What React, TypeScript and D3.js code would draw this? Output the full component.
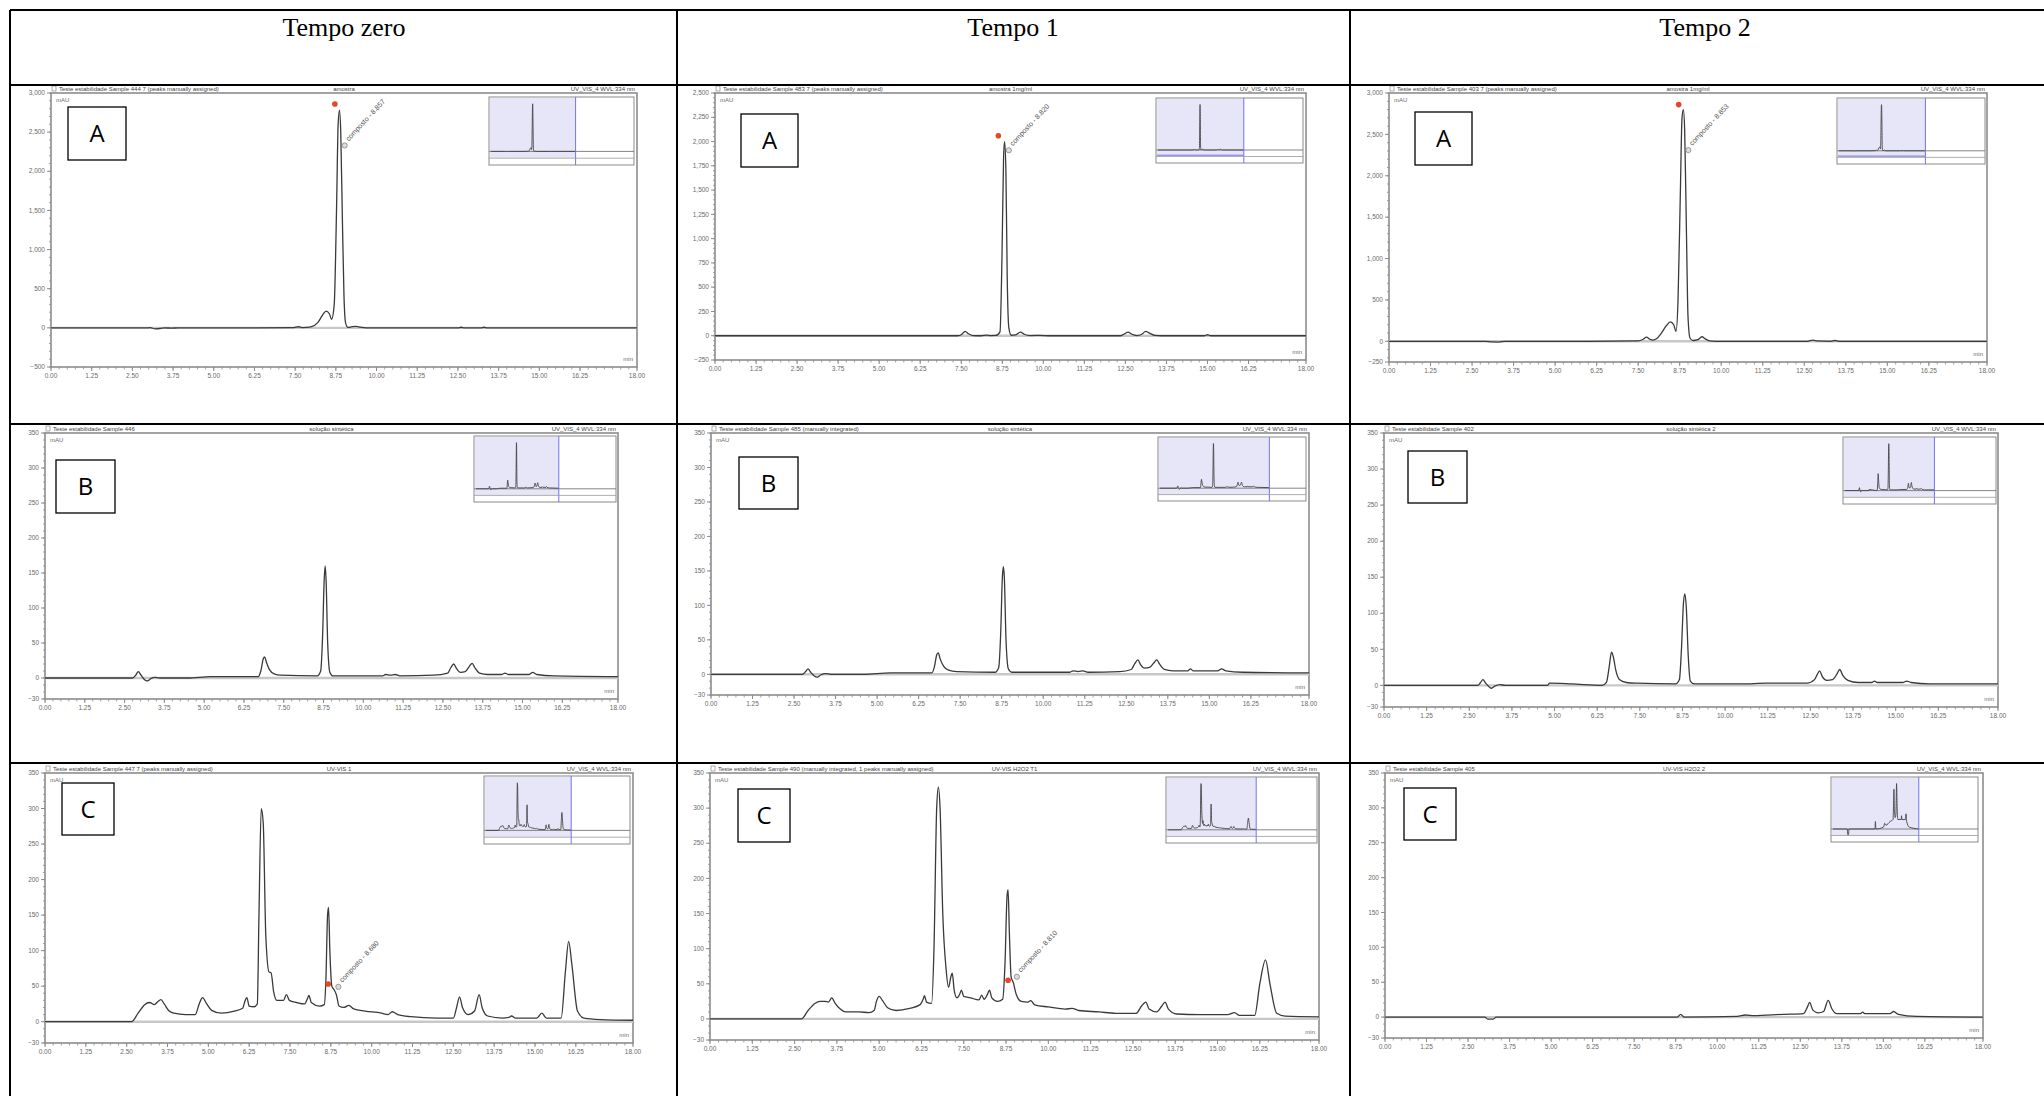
import React from 'react';
import * as d3 from 'd3';

type Pt = [number, number];

// table headers
const columnTitles = ['Tempo zero', 'Tempo 1', 'Tempo 2'];
const rowLetters = ['A', 'B', 'C'];

// retention time axis (min)
const xTickLabels = [0, 1.25, 2.5, 3.75, 5, 6.25, 7.5, 8.75, 10, 11.25, 12.5, 13.75, 15, 16.25, 18];
const xMax = 18;

// absorbance axes (mAU)
const yTicksA0 = [-500, 0, 500, 1000, 1500, 2000, 2500, 3000];
const yTicksA1 = [-250, 0, 250, 500, 750, 1000, 1250, 1500, 1750, 2000, 2250, 2500];
const yTicksA2 = [-250, 0, 500, 1000, 1500, 2000, 2500, 3000];
const yTicksBC = [-30, 0, 50, 100, 150, 200, 250, 300, 350];

// chromatogram header strings
const sampleNames = [
  'Teste estabilidade Sample 444 7 (peaks manually assigned)',
  'Teste estabilidade Sample 483 7 (peaks manually assigned)',
  'Teste estabilidade Sample 403 7 (peaks manually assigned)',
  'Teste estabilidade Sample 446',
  'Teste estabilidade Sample 485 (manually integrated)',
  'Teste estabilidade Sample 402',
  'Teste estabilidade Sample 447 7 (peaks manually assigned)',
  'Teste estabilidade Sample 490 (manually integrated, 1 peaks manually assigned)',
  'Teste estabilidade Sample 405',
];
const sampleDescr = ['amostra', 'amostra 1mg/ml', 'amostra 1mg/ml', 'solução sintética', 'solução sintética',
  'solução sintética 2', 'UV-VIS 1', 'UV-VIS H2O2 T1', 'UV-VIS H2O2 2'];
const channelName = 'UV_VIS_4 WVL:334 nm';

// run length shown in the overview thumbnails (min)
const overviewRun = [30, 30, 30, 30, 23.7, 30, 30, 30, 30];

// traces (time min, mAU)
const traceA0: Pt[] = [[0, 0], [2.9, 0], [3.05, 2], [3.2, -12], [3.35, -8], [3.5, 0], [3.7, -4], [3.9, 0], [5.5, 0], [7.45, 2],
  [7.6, 14], [7.72, 4], [7.85, 6], [8.0, 15], [8.2, 70], [8.35, 170], [8.45, 215], [8.55, 180], [8.62, 110], [8.7, 300],
  [8.77, 1500], [8.82, 2600], [8.86, 2780], [8.9, 2500], [8.95, 1400], [9.0, 400], [9.05, 60], [9.12, 5], [9.25, 15],
  [9.38, 20], [9.5, 8], [9.7, 0], [12.5, 0], [12.6, 8], [12.7, 0], [13.2, 0], [13.3, 8], [13.4, 0], [18, 0]];
const traceA1: Pt[] = [[0, 0], [7.4, 0], [7.5, 10], [7.62, 45], [7.72, 20], [7.85, 2], [8.1, 0], [8.28, 6], [8.4, 2], [8.55, 3],
  [8.68, 40], [8.74, 800], [8.79, 1850], [8.82, 2000], [8.86, 1700], [8.9, 600], [8.95, 80], [9.02, 5], [9.15, 8], [9.3, 38],
  [9.42, 15], [9.6, 2], [9.9, 4], [10.2, 0], [12.35, 0], [12.5, 25], [12.58, 38], [12.68, 18], [12.85, 2], [13.0, 15],
  [13.12, 45], [13.22, 30], [13.4, 3], [13.6, 0], [14.9, 0], [15.0, 10], [15.1, 0], [18, 0]];
const traceA2: Pt[] = [[0, 0], [2.9, 0], [3.1, -8], [3.3, -10], [3.5, 0], [6.0, 0], [7.5, 5], [7.65, 25], [7.75, 50], [7.85, 25],
  [7.95, 15], [8.05, 30], [8.2, 100], [8.35, 190], [8.47, 235], [8.57, 200], [8.64, 120], [8.7, 500], [8.77, 1800],
  [8.82, 2700], [8.86, 2800], [8.9, 2550], [8.95, 1400], [9.0, 300], [9.06, 40], [9.15, 10], [9.3, 20], [9.42, 55],
  [9.52, 30], [9.65, 5], [9.8, 0], [12.6, 0], [12.75, 15], [12.85, 5], [13.3, 0], [13.42, 10], [13.55, 0], [18, 0]];
const traceB0: Pt[] = [[0, 0], [2.75, 0], [2.85, 4], [2.93, 9], [3.02, 4], [3.12, -2], [3.22, -4], [3.32, -1], [3.45, 1], [3.6, 0],
  [4.5, 0], [5.2, 2], [6.7, 2], [6.78, 10], [6.86, 28], [6.9, 30], [6.96, 22], [7.05, 12], [7.2, 6], [7.4, 4], [8.55, 3],
  [8.66, 10], [8.72, 60], [8.77, 140], [8.8, 160], [8.83, 140], [8.88, 50], [8.95, 8], [9.05, 3], [10.6, 3], [10.7, 5],
  [10.85, 4], [11.0, 5], [11.15, 3], [12.2, 4], [12.65, 7], [12.75, 15], [12.84, 20], [12.92, 14], [13.05, 8], [13.2, 9],
  [13.32, 16], [13.42, 21], [13.5, 15], [13.65, 7], [13.9, 5], [14.35, 5], [14.45, 7], [14.55, 5], [15.2, 5], [15.32, 8],
  [15.45, 5], [16.0, 3], [18, 2]];
const traceB1: Pt[] = [[0, 0], [2.75, 0], [2.85, 4], [2.92, 8], [3.0, 3], [3.1, -2], [3.2, -4], [3.3, -1], [3.45, 1], [3.6, 0],
  [4.6, 0], [5.4, 2], [6.65, 2], [6.72, 10], [6.8, 29], [6.84, 31], [6.9, 22], [7.0, 12], [7.15, 6], [7.4, 4], [8.55, 3],
  [8.66, 10], [8.72, 60], [8.77, 140], [8.8, 156], [8.83, 140], [8.88, 50], [8.95, 8], [9.05, 3], [10.8, 3], [10.9, 5],
  [11.05, 4], [11.2, 5], [11.35, 3], [12.3, 4], [12.65, 7], [12.75, 15], [12.85, 21], [12.93, 14], [13.05, 9], [13.2, 10],
  [13.32, 16], [13.42, 21], [13.5, 15], [13.65, 7], [13.9, 5], [14.35, 5], [14.43, 8], [14.52, 5], [15.25, 5], [15.37, 8],
  [15.5, 5], [16.0, 3], [18, 2]];
const traceB2: Pt[] = [[0, 0], [2.75, 0], [2.83, 4], [2.9, 8], [2.98, 3], [3.08, -2], [3.15, -4], [3.25, -1], [3.4, 1], [3.55, 0],
  [4.8, 0], [4.85, 3], [5.5, 2], [6.4, 0], [6.52, 4], [6.6, 25], [6.67, 46], [6.72, 40], [6.8, 20], [6.9, 8], [7.1, 4],
  [7.4, 3], [8.55, 2], [8.66, 8], [8.72, 50], [8.78, 115], [8.82, 127], [8.86, 110], [8.92, 40], [8.98, 6], [9.1, 2],
  [10.5, 2], [11.2, 3], [12.4, 3], [12.62, 8], [12.7, 15], [12.77, 20], [12.85, 12], [12.98, 7], [13.15, 8], [13.28, 16],
  [13.36, 22], [13.45, 14], [13.6, 7], [13.9, 4], [14.3, 4], [14.38, 6], [14.46, 4], [15.22, 4], [15.32, 6], [15.45, 4],
  [16.0, 2], [18, 2]];
const traceC0: Pt[] = [[0, 0], [2.65, 0], [2.85, 12], [3.05, 24], [3.2, 27], [3.35, 24], [3.45, 28], [3.55, 31], [3.65, 25],
  [3.8, 15], [3.95, 12], [4.3, 10], [4.6, 10], [4.72, 25], [4.82, 34], [4.95, 25], [5.1, 16], [5.4, 12], [5.8, 15],
  [6.05, 19], [6.13, 30], [6.18, 34], [6.25, 22], [6.4, 21], [6.5, 25], [6.55, 150], [6.62, 300], [6.68, 280], [6.76, 120],
  [6.86, 70], [6.92, 69], [7.0, 42], [7.1, 30], [7.3, 30], [7.39, 38], [7.48, 30], [7.7, 27], [7.95, 25], [8.03, 32],
  [8.08, 37], [8.15, 27], [8.4, 22], [8.55, 24], [8.6, 60], [8.65, 150], [8.68, 161], [8.72, 100], [8.78, 50], [8.85, 45],
  [8.92, 38], [9.0, 22], [9.15, 20], [9.3, 23], [9.45, 18], [9.8, 15], [10.3, 12], [10.5, 10], [10.63, 14], [10.8, 10],
  [11.2, 7], [12.0, 5], [12.5, 5], [12.6, 20], [12.69, 35], [12.78, 20], [12.95, 10], [13.15, 15], [13.29, 38], [13.38, 20],
  [13.55, 8], [14.0, 5], [14.2, 6], [14.28, 8], [14.4, 5], [15.05, 5], [15.21, 12], [15.35, 5], [15.8, 5], [15.93, 70],
  [16.03, 113], [16.13, 80], [16.3, 15], [16.5, 5], [17, 3], [18, 2]];
const traceC1: Pt[] = [[0, 0], [2.7, 0], [2.9, 12], [3.1, 22], [3.25, 25], [3.4, 25], [3.5, 24], [3.6, 30], [3.7, 22], [3.85, 14],
  [4.0, 10], [4.4, 10], [4.7, 9], [4.85, 12], [4.92, 25], [5.0, 32], [5.1, 26], [5.25, 16], [5.5, 12], [5.9, 15], [6.2, 20],
  [6.3, 28], [6.34, 33], [6.4, 24], [6.55, 22], [6.62, 100], [6.7, 300], [6.75, 330], [6.8, 300], [6.88, 150], [6.98, 70],
  [7.05, 45], [7.12, 60], [7.16, 65], [7.22, 40], [7.3, 30], [7.38, 35], [7.43, 41], [7.5, 32], [7.7, 30], [7.95, 27],
  [8.03, 34], [8.1, 28], [8.2, 35], [8.26, 41], [8.33, 30], [8.5, 25], [8.65, 28], [8.72, 80], [8.78, 175], [8.81, 184],
  [8.85, 120], [8.9, 60], [8.97, 51], [9.05, 35], [9.2, 25], [9.4, 24], [9.48, 26], [9.6, 20], [10.0, 17], [10.5, 14],
  [10.7, 15], [10.9, 12], [11.5, 10], [12.0, 8], [12.6, 8], [12.75, 18], [12.88, 24], [12.98, 14], [13.2, 10], [13.35, 18],
  [13.45, 24], [13.55, 14], [13.8, 7], [14.5, 6], [15.3, 6], [15.5, 9], [15.65, 5], [16.1, 5], [16.25, 50], [16.42, 84],
  [16.55, 50], [16.75, 8], [17, 4], [18, 3]];
const traceC2: Pt[] = [[0, 0], [3.0, 0], [3.1, -3], [3.25, -3], [3.35, 0], [8.8, 0], [8.9, 4], [9.0, 0], [10.6, 1], [10.85, 3],
  [11.1, 2], [12.0, 4], [12.6, 5], [12.72, 15], [12.78, 21], [12.88, 10], [13.05, 6], [13.2, 8], [13.34, 24], [13.45, 12],
  [13.6, 5], [14.3, 5], [14.38, 7], [14.45, 5], [15.2, 5], [15.31, 8], [15.45, 4], [16.0, 1], [18, 0]];

const traces = [traceA0, traceA1, traceA2, traceB0, traceB1, traceB2, traceC0, traceC1, traceC2];
const yTickSets = [yTicksA0, yTicksA1, yTicksA2, yTicksBC, yTicksBC, yTicksBC, yTicksBC, yTicksBC, yTicksBC];

// identified peak: index of panel, marker (t, mAU), label anchor (t, mAU), label text
const peakPanels = [0, 1, 2, 6, 7];
const peakMarkT = [8.72, 8.63, 8.72, 8.67, 8.81];
const peakMarkV = [2860, 2060, 2860, 53, 55];
const peakLabelT = [9.02, 8.95, 9.01, 8.98, 9.07];
const peakLabelV = [2330, 1910, 2310, 49, 60];
const peakLabelText = ['composto - 8.857', 'composto - 8.820', 'composto - 8.853', 'composto - 8.680', 'composto - 8.810'];

// page layout (px)
const colX = [10, 677, 1350];
const rowY = [10, 85, 424, 763];
const headerX = [344, 1013, 1705];
const layout = [
  { plot: [51, 93, 637, 367], box: [68, 107, 58, 53], inset: [489, 97, 145, 68] },
  { plot: [715, 93, 1306, 360], box: [741, 114, 57, 53], inset: [1156, 98, 147, 65] },
  { plot: [1389, 93, 1987, 362], box: [1415, 112, 57, 53], inset: [1837, 98, 148, 66] },
  { plot: [45, 433, 618, 699], box: [56, 460, 59, 53], inset: [474, 436, 142, 66] },
  { plot: [711, 433, 1309, 695], box: [739, 457, 59, 52], inset: [1158, 437, 148, 64] },
  { plot: [1384, 433, 1998, 707], box: [1408, 451, 59, 52], inset: [1843, 437, 153, 67] },
  { plot: [45, 773, 633, 1043], box: [62, 783, 52, 52], inset: [484, 776, 146, 68] },
  { plot: [710, 773, 1319, 1040], box: [738, 789, 52, 53], inset: [1166, 777, 151, 66] },
  { plot: [1385, 773, 1983, 1038], box: [1404, 788, 52, 52], inset: [1831, 777, 147, 65] },
];

const fmtY = d3.format(',');
const fmtX = d3.format('.2f');
const axisGray = '#8c8c8c';
const textGray = '#6a6a6a';

const Chromatogram = ({ idx }: { idx: number }) => {
  const lay = layout[idx];
  const data = traces[idx];
  const ticks = yTickSets[idx];
  const [x0, y0, x1, y1] = lay.plot;
  const yDom = [ticks[0], ticks[ticks.length - 1]];
  const x = d3.scaleLinear().domain([0, xMax]).range([x0, x1]);
  const y = d3.scaleLinear().domain(yDom).range([y1, y0]);
  const line = d3.line<Pt>().x(d => x(d[0])).y(d => y(d[1])).curve(d3.curveMonotoneX);
  const step = (ticks[2] - ticks[1]) / 5;
  const yMinor = d3.range(Math.ceil(yDom[0] / step) * step, yDom[1] + 1e-9, step);
  const xMinor = d3.range(0, xMax + 1e-9, 0.25);
  const row = Math.floor(idx / 3);

  // overview thumbnail
  const [ix, iy, iw, ih] = lay.inset;
  const ixs = d3.scaleLinear().domain([0, overviewRun[idx]]).range([ix + 2, ix + iw - 2]);
  const vMax = d3.max(data, d => d[1]) as number;
  const iys = d3.scaleLinear().domain([0, vMax]).range([iy + ih * 0.8, iy + ih * 0.1]);
  const iline = d3.line<Pt>().x(d => ixs(d[0])).y(d => iys(d[1])).curve(d3.curveMonotoneX);
  const shadeR = ixs(xMax);

  const pk = peakPanels.indexOf(idx);
  const clipId = `clip-${idx}`;
  const [bx, by, bw, bh] = lay.box;

  return (
    <g>
      <defs>
        <clipPath id={clipId}>
          <rect x={x0} y={y0} width={x1 - x0} height={y1 - y0} />
        </clipPath>
      </defs>
      {/* header strip */}
      <rect x={x0 + 1} y={y0 - 7} width={4} height={5} fill="none" stroke="#777" strokeWidth={0.6} />
      <text x={x0 + 8} y={y0 - 2.5} fontSize={6} fill="#444" fontFamily="Liberation Sans, Arial">{sampleNames[idx]}</text>
      <text x={(x0 + x1) / 2} y={y0 - 2.5} fontSize={6} fill="#444" textAnchor="middle" fontFamily="Liberation Sans, Arial">{sampleDescr[idx]}</text>
      <text x={x1 - 2} y={y0 - 2.5} fontSize={6} fill="#444" textAnchor="end" fontFamily="Liberation Sans, Arial">{channelName}</text>
      {/* frame */}
      <rect x={x0} y={y0} width={x1 - x0} height={y1 - y0} fill="#fff" stroke={axisGray} strokeWidth={1.6} />
      {/* y axis */}
      {yMinor.map(v => (
        <line key={'ym' + v} x1={x0 - 2} x2={x0} y1={y(v)} y2={y(v)} stroke={axisGray} strokeWidth={0.8} />
      ))}
      {ticks.map(v => (
        <g key={'yt' + v}>
          <line x1={x0 - 4} x2={x0} y1={y(v)} y2={y(v)} stroke={axisGray} strokeWidth={1} />
          <text x={x0 - 6} y={y(v) + 2.2} fontSize={6.5} fill={textGray} textAnchor="end" fontFamily="Liberation Sans, Arial">{fmtY(v)}</text>
        </g>
      ))}
      {/* x axis */}
      {xMinor.map(v => (
        <line key={'xm' + v} x1={x(v)} x2={x(v)} y1={y1} y2={y1 + 2.5} stroke={axisGray} strokeWidth={0.8} />
      ))}
      {xTickLabels.map(v => (
        <g key={'xt' + v}>
          <line x1={x(v)} x2={x(v)} y1={y1} y2={y1 + 4} stroke={axisGray} strokeWidth={1} />
          <text x={x(v)} y={y1 + 11} fontSize={6.5} fill={textGray} textAnchor="middle" fontFamily="Liberation Sans, Arial">{fmtX(v)}</text>
        </g>
      ))}
      <text x={x0 + 5} y={y0 + 9} fontSize={6} fill={textGray} fontFamily="Liberation Sans, Arial">mAU</text>
      <text x={x1 - 4} y={y1 - 6} fontSize={6} fill={textGray} textAnchor="end" fontFamily="Liberation Sans, Arial">min</text>
      {/* trace */}
      <g clipPath={`url(#${clipId})`}>
        <line x1={x0} x2={x1} y1={y(0)} y2={y(0)} stroke="#c8c8c8" strokeWidth={2.4} />
        <path d={line(data) as string} fill="none" stroke="#3a3a3a" strokeWidth={1.3} />
      </g>
      {/* identified peak */}
      {pk >= 0 && (
        <g>
          <circle cx={x(peakMarkT[pk])} cy={y(peakMarkV[pk])} r={2.8} fill="#e8442a" />
          <circle cx={x(peakLabelT[pk])} cy={y(peakLabelV[pk])} r={2.6} fill="#ddd" stroke="#777" strokeWidth={0.7} />
          <text transform={`translate(${x(peakLabelT[pk]) + 4},${y(peakLabelV[pk]) - 4}) rotate(-47)`}
            fontSize={7} fill="#555" fontFamily="Liberation Sans, Arial">{peakLabelText[pk]}</text>
        </g>
      )}
      {/* overview thumbnail */}
      <rect x={ix} y={iy} width={iw} height={ih} fill="#fff" stroke="#8a8a8a" strokeWidth={1} />
      <rect x={ix + 1} y={iy + 1} width={shadeR - ix - 1} height={ih * 0.88} fill="#e6e6f8" />
      <line x1={ix} x2={ix + iw} y1={iys(0)} y2={iys(0)} stroke="#777" strokeWidth={0.9} />
      <path d={iline(data) as string} fill="none" stroke="#444" strokeWidth={0.9} />
      <line x1={shadeR} x2={shadeR} y1={iy} y2={iy + ih} stroke="#7373f0" strokeWidth={1} />
      {row === 0 && idx > 0 && (
        <line x1={ix + 1} x2={shadeR} y1={iy + ih * 0.88} y2={iy + ih * 0.88} stroke="#7373f0" strokeWidth={1} />
      )}
      <line x1={ix} x2={ix + iw} y1={iy + ih * 0.9} y2={iy + ih * 0.9} stroke="#999" strokeWidth={0.8} />
      {/* panel letter */}
      <rect x={bx} y={by} width={bw} height={bh} fill="#fff" stroke="#000" strokeWidth={1.3} />
      <text x={bx + bw / 2} y={by + bh / 2 + 8.5} fontSize={24} textAnchor="middle" fontFamily="Open Sans, Noto Sans, sans-serif">
        {rowLetters[row]}
      </text>
    </g>
  );
};

const App = () => {
  const W = 2044;
  const H = 1096;
  return (
    <svg width={W} height={H} style={{ position: 'absolute', left: 0, top: 0, background: '#fff' }}>
      <rect x={0} y={0} width={W} height={H} fill="#fff" />
      {d3.range(9).map(i => <Chromatogram key={i} idx={i} />)}
      {/* table grid */}
      {rowY.map(yy => (
        <line key={'r' + yy} x1={colX[0]} x2={W} y1={yy} y2={yy} stroke="#000" strokeWidth={2} />
      ))}
      {colX.map(xx => (
        <line key={'c' + xx} x1={xx} x2={xx} y1={rowY[0]} y2={H} stroke="#000" strokeWidth={2} />
      ))}
      {columnTitles.map((t, i) => (
        <text key={t} x={headerX[i]} y={36} fontSize={26} textAnchor="middle"
          fontFamily="Liberation Serif, Times New Roman, serif">{t}</text>
      ))}
    </svg>
  );
};

export default App;
